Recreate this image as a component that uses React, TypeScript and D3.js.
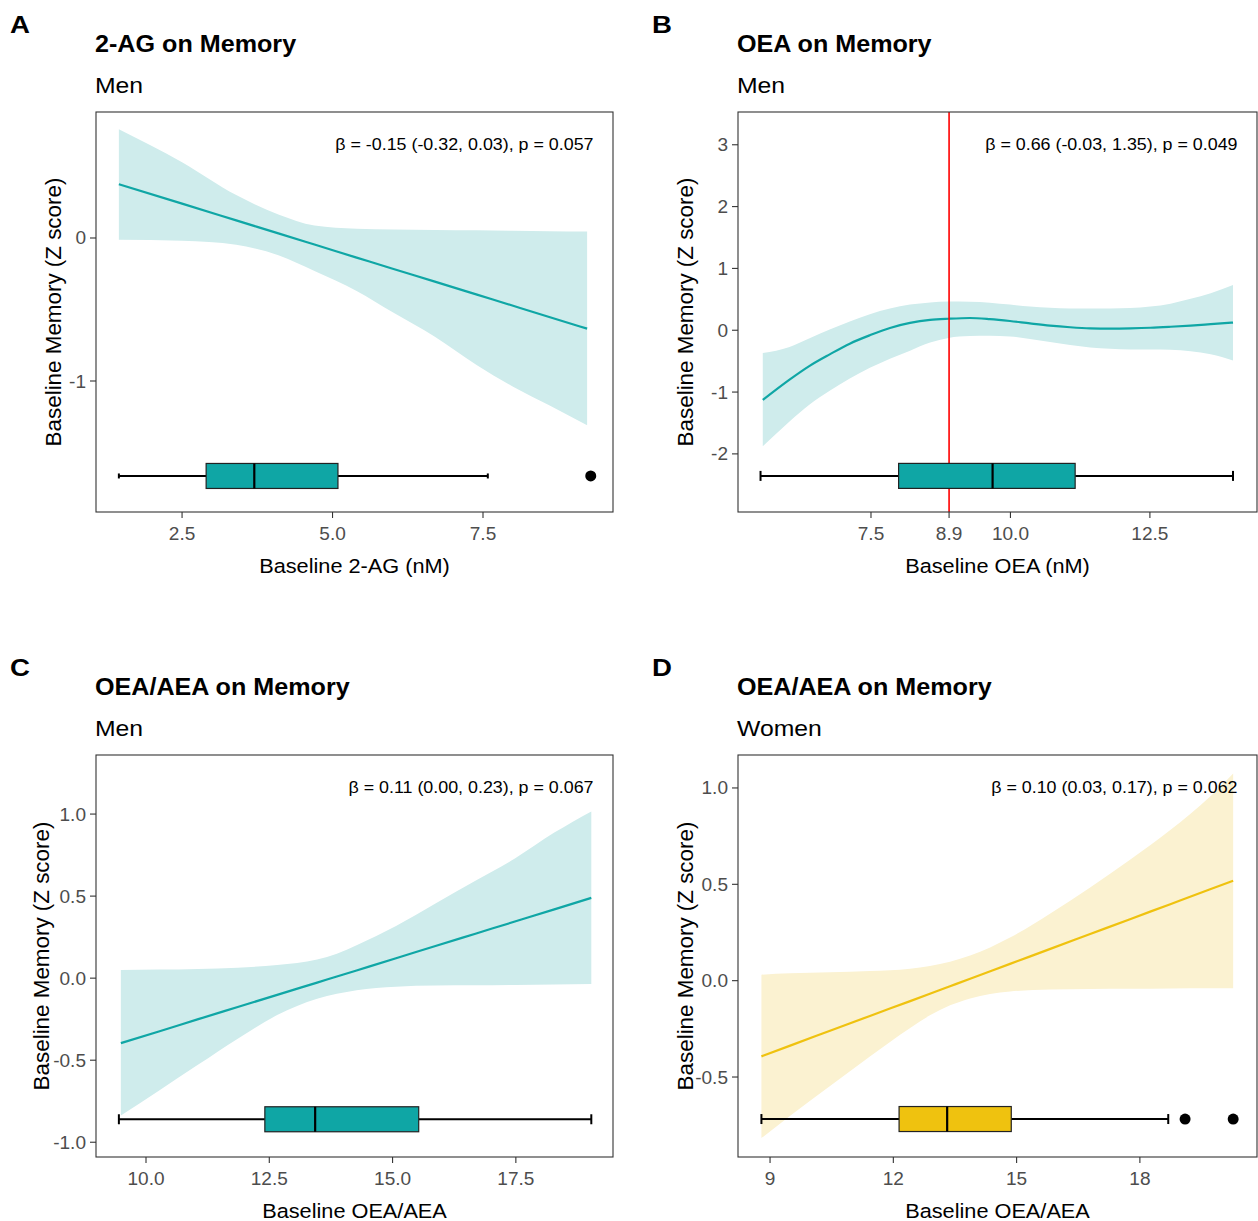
import React from "react";
import * as d3 from "d3";

// ---------- Data ----------
// Panel A: 2-AG on Memory (Men)
const aX = [1.45, 2.5, 3.4, 4.1, 4.7, 5.4, 6.0, 6.7, 7.4, 8.0, 8.6, 9.23];
const aFit = [0.376, 0.24, 0.123, 0.032, -0.046, -0.137, -0.215, -0.305, -0.396, -0.474, -0.552, -0.634];
const aHi = [0.76, 0.53, 0.3, 0.165, 0.088, 0.065, 0.059, 0.056, 0.054, 0.051, 0.048, 0.046];
const aLo = [-0.013, -0.02, -0.048, -0.12, -0.23, -0.37, -0.52, -0.69, -0.89, -1.04, -1.17, -1.31];
const aBox = [1.45, 2.9, 3.7, 5.09, 7.58];
const aOut = [9.29];

// Panel B: OEA on Memory (Men)
const bX = [5.56, 6.04, 6.4, 6.76, 7.12, 7.48, 7.84, 8.2, 8.56, 8.89, 9.27, 9.63, 9.99, 10.35, 10.71, 11.07, 11.43, 11.79, 12.15, 12.51, 12.87, 13.23, 13.59, 13.99];
const bFit = [-1.128, -0.799, -0.576, -0.39, -0.217, -0.081, 0.037, 0.118, 0.167, 0.186, 0.198, 0.18, 0.149, 0.11, 0.074, 0.048, 0.031, 0.027, 0.031, 0.04, 0.056, 0.075, 0.098, 0.124];
const bHi = [-0.37, -0.27, -0.13, 0.01, 0.14, 0.26, 0.35, 0.415, 0.45, 0.465, 0.46, 0.446, 0.415, 0.384, 0.365, 0.353, 0.352, 0.353, 0.36, 0.384, 0.43, 0.508, 0.6, 0.73];
const bLo = [-1.877, -1.475, -1.2, -0.979, -0.78, -0.607, -0.46, -0.33, -0.2, -0.125, -0.095, -0.09, -0.1, -0.14, -0.192, -0.24, -0.28, -0.3, -0.31, -0.31, -0.315, -0.34, -0.39, -0.49];
const bBox = [5.52, 7.995, 9.68, 11.16, 13.99];
const bOut: number[] = [];
const bVLine = 8.9;

// Panel C: OEA/AEA on Memory (Men)
const cX = [9.49, 10.26, 11.06, 11.86, 12.66, 13.47, 13.87, 14.27, 15.07, 15.87, 16.68, 17.48, 18.28, 19.03];
const cFit = [-0.396, -0.325, -0.25, -0.176, -0.102, -0.027, 0.01, 0.047, 0.121, 0.196, 0.271, 0.345, 0.419, 0.489];
const cHi = [0.05, 0.052, 0.056, 0.064, 0.08, 0.113, 0.148, 0.2, 0.318, 0.455, 0.593, 0.729, 0.887, 1.016];
const cLo = [-0.837, -0.686, -0.527, -0.369, -0.225, -0.125, -0.095, -0.073, -0.052, -0.045, -0.043, -0.041, -0.038, -0.036];
const cBox = [9.45, 12.41, 13.43, 15.53, 19.03];
const cOut: number[] = [];

// Panel D: OEA/AEA on Memory (Women)
const dX = [8.79, 9.49, 10.46, 11.43, 12.41, 12.89, 13.38, 13.87, 14.84, 15.82, 16.79, 17.76, 18.74, 19.71, 20.27];
const dFit = [-0.393, -0.337, -0.26, -0.183, -0.106, -0.068, -0.029, 0.01, 0.087, 0.165, 0.242, 0.319, 0.397, 0.474, 0.518];
const dHi = [0.031, 0.038, 0.044, 0.05, 0.062, 0.076, 0.098, 0.13, 0.224, 0.349, 0.484, 0.628, 0.782, 0.956, 1.075];
const dLo = [-0.817, -0.701, -0.547, -0.393, -0.245, -0.18, -0.128, -0.092, -0.056, -0.046, -0.043, -0.042, -0.04, -0.039, -0.039];
const dBox = [8.79, 12.14, 13.31, 14.87, 18.69];
const dOut = [19.1, 20.27];

// Tick values
const aXTicks = [2.5, 5.0, 7.5];
const aYTicks = [0, -1];
const bXTicks = [7.5, 8.9, 10.0, 12.5];
const bYTicks = [3, 2, 1, 0, -1, -2];
const cXTicks = [10.0, 12.5, 15.0, 17.5];
const cYTicks = [1.0, 0.5, 0.0, -0.5, -1.0];
const dXTicks = [9, 12, 15, 18];
const dYTicks = [1.0, 0.5, 0.0, -0.5];

const TEAL = "#0FA6A5";
const TEAL_RIB = "#CFECEC";
const GOLD = "#EFC20F";
const GOLD_RIB = "#FBF2D1";
const FONT = "'Liberation Sans', Arial, Helvetica, sans-serif";

function T(props: {
  x: number;
  y: number;
  s?: number;
  size: number;
  anchor?: string;
  weight?: string;
  fill?: string;
  rotate?: boolean;
  children: React.ReactNode;
}) {
  const { x, y, s = 1, size, anchor = "start", weight = "normal", fill = "#000", rotate } = props;
  const tf = rotate
    ? `translate(${x},${y}) scale(${s},1) rotate(-90)`
    : `translate(${x},${y}) scale(${s},1)`;
  return (
    <text transform={tf} fontSize={size} textAnchor={anchor} fontWeight={weight} fill={fill}>
      {props.children}
    </text>
  );
}

type PanelProps = {
  letter: string;
  title: string;
  subtitle: string;
  annot: string;
  xLabel: string;
  left: number;
  top: number;
  width: number;
  height: number;
  xDomain: [number, number];
  yDomain: [number, number];
  xTicks: number[];
  yTicks: number[];
  xFmt: (v: number) => string;
  yFmt: (v: number) => string;
  xs: number[];
  fit: number[];
  hi: number[];
  lo: number[];
  box: number[];
  out: number[];
  boxY: number;
  capH: number;
  color: string;
  ribbon: string;
  vline?: number;
  yTitleX: number;
};

function Panel(p: PanelProps) {
  const x = d3.scaleLinear().domain(p.xDomain).range([p.left, p.left + p.width]);
  const y = d3.scaleLinear().domain(p.yDomain).range([p.top + p.height, p.top]);
  const idx = d3.range(p.xs.length);
  const area = d3
    .area<number>()
    .x((i) => x(p.xs[i]))
    .y0((i) => y(p.lo[i]))
    .y1((i) => y(p.hi[i]))
    .curve(d3.curveMonotoneX);
  const line = d3
    .line<number>()
    .x((i) => x(p.xs[i]))
    .y((i) => y(p.fit[i]))
    .curve(d3.curveMonotoneX);
  const by = y(p.boxY);
  const bh = 12.5;
  const bottom = p.top + p.height;
  const cx = p.left + p.width / 2;
  const cy = p.top + p.height / 2;
  return (
    <g fontFamily={FONT}>
      <T x={p.left - 86} y={p.top - 79} size={24} s={1.15} weight="bold">
        {p.letter}
      </T>
      <T x={p.left - 1} y={p.top - 60.5} size={23.5} s={1.07} weight="bold">
        {p.title}
      </T>
      <T x={p.left - 1} y={p.top - 19.5} size={22.5} s={1.1}>
        {p.subtitle}
      </T>
      <rect x={p.left} y={p.top} width={p.width} height={p.height} fill="#fff" />
      <path d={area(idx) || ""} fill={p.ribbon} />
      <path d={line(idx) || ""} fill="none" stroke={p.color} strokeWidth={2.2} />
      {p.vline !== undefined && (
        <line x1={x(p.vline)} x2={x(p.vline)} y1={p.top} y2={bottom} stroke="#FF0000" strokeWidth={1.6} />
      )}
      {/* boxplot */}
      <line x1={x(p.box[0])} x2={x(p.box[1])} y1={by} y2={by} stroke="#000" strokeWidth={2} />
      <line x1={x(p.box[3])} x2={x(p.box[4])} y1={by} y2={by} stroke="#000" strokeWidth={2} />
      <line x1={x(p.box[0])} x2={x(p.box[0])} y1={by - p.capH / 2} y2={by + p.capH / 2} stroke="#000" strokeWidth={2} />
      <line x1={x(p.box[4])} x2={x(p.box[4])} y1={by - p.capH / 2} y2={by + p.capH / 2} stroke="#000" strokeWidth={2} />
      <rect
        x={x(p.box[1])}
        y={by - bh}
        width={x(p.box[3]) - x(p.box[1])}
        height={bh * 2}
        fill={p.color}
        stroke="#222"
        strokeWidth={1.2}
      />
      <line x1={x(p.box[2])} x2={x(p.box[2])} y1={by - bh} y2={by + bh} stroke="#000" strokeWidth={2.2} />
      {p.out.map((o, i) => (
        <circle key={i} cx={x(o)} cy={by} r={5.5} fill="#000" />
      ))}
      {/* annotation */}
      <T x={p.left + p.width - 19.5} y={p.top + 38} size={17} s={1.05} anchor="end">
        {p.annot}
      </T>
      {/* frame */}
      <rect x={p.left} y={p.top} width={p.width} height={p.height} fill="none" stroke="#333" strokeWidth={1.1} />
      {/* x axis */}
      {p.xTicks.map((t) => (
        <g key={"x" + t}>
          <line x1={x(t)} x2={x(t)} y1={bottom} y2={bottom + 6} stroke="#333" strokeWidth={1.1} />
          <T x={x(t)} y={bottom + 28} size={18.5} s={1.03} anchor="middle" fill="#4D4D4D">
            {p.xFmt(t)}
          </T>
        </g>
      ))}
      {/* y axis */}
      {p.yTicks.map((t) => (
        <g key={"y" + t}>
          <line x1={p.left - 6} x2={p.left} y1={y(t)} y2={y(t)} stroke="#333" strokeWidth={1.1} />
          <T x={p.left - 10} y={y(t) + 6.5} size={18.5} s={1.03} anchor="end" fill="#4D4D4D">
            {p.yFmt(t)}
          </T>
        </g>
      ))}
      <T x={cx} y={bottom + 61} size={20.5} s={1.06} anchor="middle">
        {p.xLabel}
      </T>
      <T x={p.yTitleX} y={cy} size={22.4} s={1} anchor="middle" rotate>
        Baseline Memory (Z score)
      </T>
    </g>
  );
}

const f1 = (v: number) => v.toFixed(1);
const f0 = (v: number) => String(v);

export default function App() {
  return (
    <svg
      width={1258}
      height={1221}
      viewBox="0 0 1258 1221"
      style={{ position: "absolute", left: 0, top: 0, background: "#fff" }}
    >
      <rect x={0} y={0} width={1258} height={1221} fill="#fff" />
      <Panel
        letter="A"
        title="2-AG on Memory"
        subtitle="Men"
        annot="β = -0.15 (-0.32, 0.03), p = 0.057"
        xLabel="Baseline 2-AG (nM)"
        left={96}
        top={112}
        width={517}
        height={400}
        xDomain={[1.07, 9.66]}
        yDomain={[-1.916, 0.881]}
        xTicks={aXTicks}
        yTicks={aYTicks}
        xFmt={f1}
        yFmt={f0}
        xs={aX}
        fit={aFit}
        hi={aHi}
        lo={aLo}
        box={aBox}
        out={aOut}
        boxY={-1.664}
        capH={5}
        color={TEAL}
        ribbon={TEAL_RIB}
        yTitleX={61}
      />
      <Panel
        letter="B"
        title="OEA on Memory"
        subtitle="Men"
        annot="β = 0.66 (-0.03, 1.35), p = 0.049"
        xLabel="Baseline OEA (nM)"
        left={738}
        top={112}
        width={519}
        height={400}
        xDomain={[5.116, 14.42]}
        yDomain={[-2.94, 3.53]}
        xTicks={bXTicks}
        yTicks={bYTicks}
        xFmt={f1}
        yFmt={f0}
        xs={bX}
        fit={bFit}
        hi={bHi}
        lo={bLo}
        box={bBox}
        out={bOut}
        boxY={-2.356}
        capH={10}
        color={TEAL}
        ribbon={TEAL_RIB}
        vline={bVLine}
        yTitleX={693}
      />
      <Panel
        letter="C"
        title="OEA/AEA on Memory"
        subtitle="Men"
        annot="β = 0.11 (0.00, 0.23), p = 0.067"
        xLabel="Baseline OEA/AEA"
        left={96}
        top={755}
        width={517}
        height={402}
        xDomain={[8.986, 19.47]}
        yDomain={[-1.09, 1.36]}
        xTicks={cXTicks}
        yTicks={cYTicks}
        xFmt={f1}
        yFmt={f1}
        xs={cX}
        fit={cFit}
        hi={cHi}
        lo={cLo}
        box={cBox}
        out={cOut}
        boxY={-0.86}
        capH={10}
        color={TEAL}
        ribbon={TEAL_RIB}
        yTitleX={49}
      />
      <Panel
        letter="D"
        title="OEA/AEA on Memory"
        subtitle="Women"
        annot="β = 0.10 (0.03, 0.17), p = 0.062"
        xLabel="Baseline OEA/AEA"
        left={738}
        top={755}
        width={519}
        height={402}
        xDomain={[8.22, 20.85]}
        yDomain={[-0.915, 1.171]}
        xTicks={dXTicks}
        yTicks={dYTicks}
        xFmt={f0}
        yFmt={f1}
        xs={dX}
        fit={dFit}
        hi={dHi}
        lo={dLo}
        box={dBox}
        out={dOut}
        boxY={-0.718}
        capH={10}
        color={GOLD}
        ribbon={GOLD_RIB}
        yTitleX={693}
      />
    </svg>
  );
}
